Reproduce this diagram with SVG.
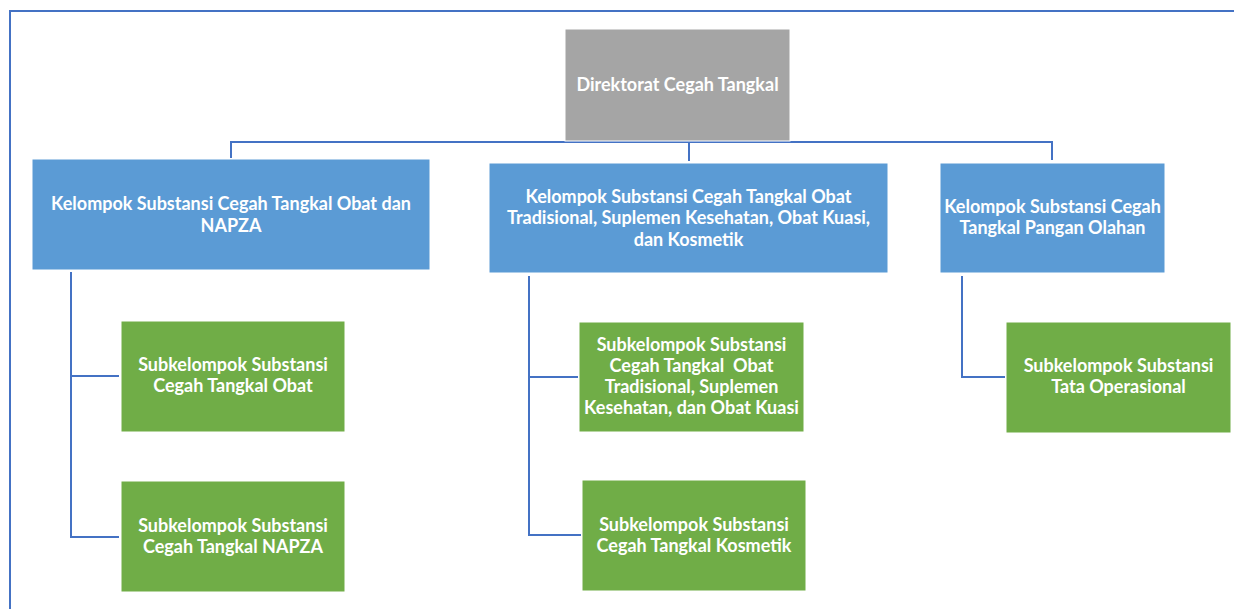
<svg xmlns="http://www.w3.org/2000/svg" width="1234" height="609" viewBox="0 0 1234 609">
<style>
.t{font-family:Lato,"Liberation Sans",sans-serif;font-weight:bold;font-size:18px;fill:#fff;text-anchor:middle}
.g{fill:#A5A5A5;stroke:#fff;stroke-width:1}
.b{fill:#5B9BD5;stroke:#fff;stroke-width:1}
.gr{fill:#70AD47;stroke:#fff;stroke-width:1}
.c{fill:none;stroke:#4472C4;stroke-width:2}
</style>
<rect x="0" y="0" width="1234" height="609" fill="#fff"/>
<rect x="10" y="11" width="1240" height="620" fill="none" stroke="#4472C4" stroke-width="2"/>
<g id="connectors">
<path class="c" d="M231,158 V142 H1052 V160"/>
<path class="c" d="M689,143 V161"/>
<path class="c" d="M71,272 V537 H119 M71,376 H119"/>
<path class="c" d="M529,276 V535 H581 M529,377 H578"/>
<path class="c" d="M962,276 V377 H1005"/>
</g>
<g id="n-dir"><rect class="g" x="565" y="29" width="225" height="112"/><text class="t" x="677.5" y="91">Direktorat Cegah Tangkal</text></g>
<g id="n-k1"><rect class="b" x="32" y="159" width="398" height="111"/><text class="t" x="231" y="210">Kelompok Substansi Cegah Tangkal Obat dan</text><text class="t" x="231" y="232">NAPZA</text></g>
<g id="n-k2"><rect class="b" x="489" y="163" width="399" height="110"/><text class="t" x="688.5" y="203">Kelompok Substansi Cegah Tangkal Obat</text><text class="t" x="688.5" y="224">Tradisional, Suplemen Kesehatan, Obat Kuasi,</text><text class="t" x="688.5" y="246">dan Kosmetik</text></g>
<g id="n-k3"><rect class="b" x="940" y="163" width="225" height="110"/><text class="t" x="1052.5" y="213">Kelompok Substansi Cegah</text><text class="t" x="1052.5" y="234">Tangkal Pangan Olahan</text></g>
<g id="n-s1"><rect class="gr" x="121" y="321" width="224" height="111"/><text class="t" x="233" y="371">Subkelompok Substansi</text><text class="t" x="233" y="392">Cegah Tangkal Obat</text></g>
<g id="n-s2"><rect class="gr" x="121" y="481" width="224" height="111"/><text class="t" x="233" y="532">Subkelompok Substansi</text><text class="t" x="233" y="553">Cegah Tangkal NAPZA</text></g>
<g id="n-s3"><rect class="gr" x="579" y="322" width="225" height="110"/><text class="t" x="691.5" y="351">Subkelompok Substansi</text><text class="t" x="691.5" y="372" style="white-space:pre">Cegah Tangkal  Obat</text><text class="t" x="691.5" y="393">Tradisional, Suplemen</text><text class="t" x="691.5" y="414">Kesehatan, dan Obat Kuasi</text></g>
<g id="n-s4"><rect class="gr" x="582" y="480" width="224" height="111"/><text class="t" x="694" y="531">Subkelompok Substansi</text><text class="t" x="694" y="552">Cegah Tangkal Kosmetik</text></g>
<g id="n-s5"><rect class="gr" x="1006" y="322" width="225" height="111"/><text class="t" x="1118.5" y="372">Subkelompok Substansi</text><text class="t" x="1118.5" y="393">Tata Operasional</text></g>
</svg>
